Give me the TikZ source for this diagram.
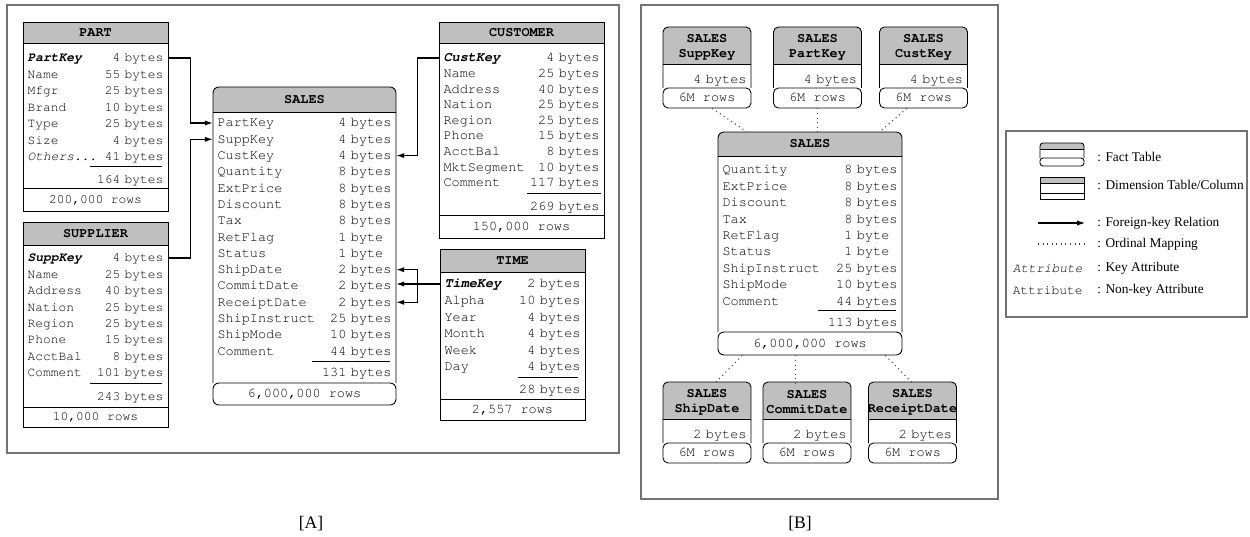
\documentclass[tikz,border=0pt]{standalone}
\usepackage[T1]{fontenc}
\usepackage{fontspec}
\setmainfont{Liberation Serif}
\usetikzlibrary{arrows.meta}
\setlength{\parindent}{0pt}
\newcommand{\cour}[1]{\fontencoding{T1}\fontfamily{pcr}\fontsize{#1}{9}\selectfont}
\newcommand{\fillgap}{\hskip 0pt plus 1filll\relax}
\newcommand{\keyattr}[1]{\textbf{\textit{#1}}}
\tikzstyle{hdr} = [fill=black!25]
\tikzstyle{tbl} = [draw=black, line width=0.5pt]
\tikzstyle{frame} = [draw=black!55, line width=0.9pt]
\tikzstyle{row} = [inner xsep=0.09cm, inner ysep=0pt, text height=6pt, text depth=1.5pt]
\tikzstyle{title} = [font=\cour{7.7}\bfseries]
\tikzstyle{colhead} = [align=center, minimum width=1.76cm, minimum height=0.74cm, inner sep=0pt, font=\cour{7.7}\bfseries\fontsize{7.7}{8.5}\selectfont]
\tikzstyle{foot} = [tbl, rounded corners=0.1cm, inner sep=0pt, text height=6pt, text depth=1.5pt]
\tikzstyle{fk} = [-{Latex[length=4.5pt,width=3pt]}, line width=0.6pt]
\tikzstyle{ordinal} = [black!75, dash pattern=on 0.6pt off 2pt, line width=0.6pt]
\tikzstyle{legend} = [anchor=west, inner sep=0pt, font=\rmfamily\fontsize{7.6}{9}\selectfont]

% one column of SALES in [B]: name, centre x, top y, column, size
\newcommand{\salescol}[5]{%
  \begin{scope}[shift={(#2,#3)}]
    \fill[hdr, rounded corners=0.1cm] (-44,0) rectangle (44,45);
    \fill[white] (-44,37) rectangle (44,61);
    \draw[tbl, rounded corners=0.1cm] (-44,61) -- (-44,0) -- (44,0) -- (44,61);
    \draw[tbl] (-44,37) -- (44,37);
    \node[colhead] (#1-head) at (0,20) {SALES\\#4};
    \node[row, text width=1.58cm] (#1-size) at (0,53) {\fillgap #5};
    \node[foot, minimum width=1.76cm, minimum height=0.4cm] (#1-foot) at (0,71) {6M rows};
  \end{scope}}

\begin{document}
\begin{tikzpicture}[x=0.02cm, y=-0.02cm, font=\cour{7.7}]
  \useasboundingbox (0,0) rectangle (1250,537);

  % [A] star schema
  \draw[frame] (7,5) rectangle (619,453);

  % PART
  \begin{scope}[font=\cour{7.35}, row/.append style={text width=2.72cm}]
    \filldraw[tbl, hdr] (23,22) rectangle (168,43);
    \draw[tbl] (23,43) rectangle (168,188);
    \node[title] (part) at (95.5,33) {PART};
    \node[row] (part-PartKey) at (95.5,58) {\keyattr{PartKey}\fillgap 4 bytes};
    \foreach \k/\s [count=\i] in {Name/55 bytes, Mfgr/25 bytes, Brand/10 bytes, Type/25 bytes, Size/4 bytes}
      \node[row] (part-\k) at (95.5,58+16.5*\i) {\k\fillgap\s};
    \node[row] (part-others) at (95.5,157) {\textit{Others...}\fillgap 41 bytes};
    \draw[tbl] (90,166) -- (162,166);
    \node[row] (part-total) at (95.5,180) {\fillgap 164 bytes};
    \node[foot, rounded corners=0pt, minimum width=2.9cm, minimum height=0.46cm] (part-rows) at (95.5,199.5) {200,000 rows};
  \end{scope}

  % SUPPLIER
  \begin{scope}[font=\cour{7.35}, row/.append style={text width=2.72cm}]
    \filldraw[tbl, hdr] (23,222) rectangle (168,245);
    \draw[tbl] (23,245) rectangle (168,407);
    \node[title] (supp) at (95.5,233.5) {SUPPLIER};
    \node[row] (supp-SuppKey) at (95.5,258) {\keyattr{SuppKey}\fillgap 4 bytes};
    \foreach \k/\s [count=\i] in {Name/25 bytes, Address/40 bytes, Nation/25 bytes, Region/25 bytes, Phone/15 bytes, AcctBal/8 bytes, Comment/101 bytes}
      \node[row] (supp-\k) at (95.5,258+16.4*\i) {\k\fillgap\s};
    \draw[tbl] (90,383) -- (162,383);
    \node[row] (supp-total) at (95.5,397) {\fillgap 243 bytes};
    \node[foot, rounded corners=0pt, minimum width=2.9cm, minimum height=0.4cm] (supp-rows) at (95.5,417) {10,000 rows};
  \end{scope}

  % SALES (fact table)
  \begin{scope}[row/.append style={text width=3.48cm}]
    \fill[hdr, rounded corners=0.12cm] (213,87) rectangle (396,120);
    \fill[white] (213,112) rectangle (396,383);
    \draw[tbl, rounded corners=0.12cm] (213,383) -- (213,87) -- (396,87) -- (396,383);
    \draw[tbl] (213,112) -- (396,112);
    \node[title] (sales) at (304.5,99.5) {SALES};
    \foreach \k/\s [count=\i from 0] in {PartKey/4 bytes, SuppKey/4 bytes, CustKey/4 bytes, Quantity/8 bytes, ExtPrice/8 bytes, Discount/8 bytes, Tax/8 bytes, RetFlag/{1 byte\phantom{s}}, Status/{1 byte\phantom{s}}, ShipDate/2 bytes, CommitDate/2 bytes, ReceiptDate/2 bytes, ShipInstruct/25 bytes, ShipMode/10 bytes, Comment/44 bytes}
      \node[row] (sa-\k) at (304.5,123+16.3*\i) {\k\fillgap\s};
    \draw[tbl] (312,361) -- (390,361);
    \node[row] (sa-total) at (304.5,373) {\fillgap 131 bytes};
    \node[foot, rounded corners=0.12cm, minimum width=3.66cm, minimum height=0.44cm] (sa-rows) at (304.5,394) {6,000,000 rows};
  \end{scope}

  % CUSTOMER
  \begin{scope}[row/.append style={text width=3.12cm}]
    \filldraw[tbl, hdr] (439,22) rectangle (604,43);
    \draw[tbl] (439,43) rectangle (604,215);
    \node[title] (cust) at (521.5,33) {CUSTOMER};
    \node[row] (cust-CustKey) at (521.5,58) {\keyattr{CustKey}\fillgap 4 bytes};
    \foreach \k/\s [count=\i] in {Name/25 bytes, Address/40 bytes, Nation/25 bytes, Region/25 bytes, Phone/15 bytes, AcctBal/8 bytes, MktSegment/10 bytes, Comment/117 bytes}
      \node[row] (cust-\k) at (521.5,58+15.6*\i) {\k\fillgap\s};
    \draw[tbl] (527,193) -- (601,193);
    \node[row] (cust-total) at (521.5,207) {\fillgap 269 bytes};
    \node[foot, rounded corners=0pt, minimum width=3.3cm, minimum height=0.46cm] (cust-rows) at (521.5,226.5) {150,000 rows};
  \end{scope}

  % TIME
  \begin{scope}[row/.append style={text width=2.72cm}]
    \filldraw[tbl, hdr] (440,249) rectangle (585,272);
    \draw[tbl] (440,272) rectangle (585,399);
    \node[title] (time) at (512.5,260.5) {TIME};
    \node[row] (time-TimeKey) at (512.5,284) {\keyattr{TimeKey}\fillgap 2 bytes};
    \foreach \k/\s [count=\i] in {Alpha/10 bytes, Year/4 bytes, Month/4 bytes, Week/4 bytes, Day/4 bytes}
      \node[row] (time-\k) at (512.5,284+16.6*\i) {\k\fillgap\s};
    \draw[tbl] (518,377) -- (578,377);
    \node[row] (time-total) at (512.5,390) {\fillgap 28 bytes};
    \node[foot, rounded corners=0pt, minimum width=2.9cm, minimum height=0.42cm] (time-rows) at (512.5,409.5) {2,557 rows};
  \end{scope}

  % foreign keys
  \draw[fk] (part-PartKey.east) -- ++(22,0) |- (sa-PartKey.west);
  \draw[fk] (supp-SuppKey.east) -- ++(22,0) |- (sa-SuppKey.west);
  \draw[fk] (cust-CustKey.west) -- ++(-21,0) |- (sa-CustKey.east);
  \draw[fk] (time-TimeKey.west) -- (time-TimeKey.west -| sa-CommitDate.east);
  \path (time-TimeKey.west) -- ++(-22,0) coordinate (tk-fork);
  \draw[fk] (tk-fork) |- (sa-ShipDate.east);
  \draw[fk] (tk-fork) |- (sa-ReceiptDate.east);

  % [B] columns of SALES
  \draw[frame] (641,5) rectangle (998,499);
  \salescol{sk}{707}{27}{SuppKey}{4 bytes}
  \salescol{pk}{817.5}{27}{PartKey}{4 bytes}
  \salescol{ck}{923.5}{27}{CustKey}{4 bytes}
  \salescol{sd}{707}{382}{ShipDate}{2 bytes}
  \salescol{cd}{807}{382}{CommitDate}{2 bytes}
  \salescol{rd}{912.5}{382}{ReceiptDate}{2 bytes}

  \begin{scope}[row/.append style={text width=3.5cm}]
    \fill[hdr, rounded corners=0.12cm] (718,132) rectangle (902,165);
    \fill[white] (718,156) rectangle (902,332);
    \draw[tbl, rounded corners=0.12cm] (718,332) -- (718,132) -- (902,132) -- (902,332);
    \draw[tbl] (718,156) -- (902,156);
    \node[title, minimum width=3.68cm, minimum height=0.48cm, inner sep=0pt] (sb-head) at (810,144) {SALES};
    \foreach \k/\s [count=\i from 0] in {Quantity/8 bytes, ExtPrice/8 bytes, Discount/8 bytes, Tax/8 bytes, RetFlag/{1 byte\phantom{s}}, Status/{1 byte\phantom{s}}, ShipInstruct/25 bytes, ShipMode/10 bytes, Comment/44 bytes}
      \node[row] (sb-\k) at (810,170+16.4*\i) {\k\fillgap\s};
    \draw[tbl] (818,310) -- (896,310);
    \node[row] (sb-total) at (810,323) {\fillgap 113 bytes};
    \node[foot, rounded corners=0.12cm, minimum width=3.68cm, minimum height=0.46cm] (sb-rows) at (810,343.5) {6,000,000 rows};
  \end{scope}

  % ordinal mappings
  \draw[ordinal] (sk-foot.297) -- (sb-head.169);
  \draw[ordinal] (pk-foot.south) -- (pk-foot.south |- sb-head.north);
  \draw[ordinal] (ck-foot.212) -- (sb-head.10);
  \draw[ordinal] (sb-rows.190) -- (sd-head.67);
  \draw[ordinal] (sb-rows.219) -- (sb-rows.219 |- cd-head.north);
  \draw[ordinal] (sb-rows.351) -- (rd-head.north);

  % legend
  \draw[frame] (1006,131) rectangle (1247,317);
  \fill[hdr, rounded corners=0.06cm] (1040,143) rectangle (1084,155);
  \fill[white] (1040,149) rectangle (1084,158);
  \draw[tbl, rounded corners=0.06cm] (1040,158) -- (1040,143) -- (1084,143) -- (1084,158);
  \draw[tbl] (1040,149) -- (1084,149);
  \draw[tbl, rounded corners=0.06cm] (1040,158) rectangle (1084,166);
  \draw[tbl, hdr] (1040,177) rectangle (1084,183);
  \draw[tbl] (1040,183) rectangle (1084,193);
  \draw[tbl] (1040,193) rectangle (1084,199);
  \node[legend] (lg-fact) at (1097,157) {: Fact Table};
  \node[legend] (lg-dim) at (1097,185) {: Dimension Table/Column};
  \node[legend] (lg-fk) at (1097,223) {: Foreign-key Relation};
  \node[legend] (lg-ord) at (1097,244) {: Ordinal Mapping};
  \node[legend] (lg-key) at (1097,268) {: Key Attribute};
  \node[legend] (lg-nonkey) at (1097,290) {: Non-key Attribute};
  \draw[fk] ([xshift=-1.18cm]lg-fk.west) -- ([xshift=-0.24cm]lg-fk.west);
  \draw[ordinal] ([xshift=-1.18cm]lg-ord.west) -- ([xshift=-0.24cm]lg-ord.west);
  \node[anchor=east, inner sep=0pt, font=\cour{7.35}] (lg-keyattr) at ([xshift=-0.28cm]lg-key.west) {\textit{Attribute}};
  \node[anchor=east, inner sep=0pt, font=\cour{7.35}] (lg-attr) at ([xshift=-0.28cm]lg-nonkey.west) {Attribute};

  \node[font=\rmfamily\fontsize{10}{12}\selectfont] (lab-a) at (311,524) {[A]};
  \node[font=\rmfamily\fontsize{10}{12}\selectfont] (lab-b) at (800,524) {[B]};
\end{tikzpicture}
\end{document}
